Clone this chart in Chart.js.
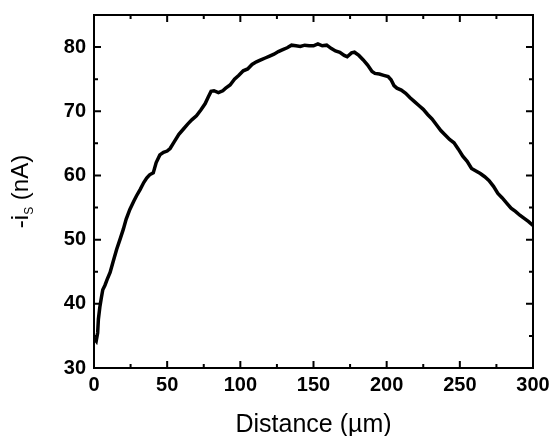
<!DOCTYPE html>
<html>
<head>
<meta charset="utf-8">
<script src="https://cdn.jsdelivr.net/npm/chart.js@4.4.1/dist/chart.umd.min.js"></script>
<style>
  html, body { margin: 0; padding: 0; background: #fff; }
  #wrap { width: 552px; height: 436px; position: relative; }
</style>
</head>
<body>
<div id="wrap"><canvas id="myChart"></canvas></div>
<script>
// values
const distance = [0.5, 1.5, 2.5, 3, 4, 5, 6, 7.5, 9, 11, 13, 15.5, 18, 20, 22, 24.5, 27, 29, 31.5, 34, 36, 38, 40.5, 42.5, 45, 47.5, 50, 52, 55, 58, 61, 64, 67, 70, 73, 76, 78, 80, 82, 85, 88, 90, 93, 96, 99, 102, 105, 108, 111, 114, 117, 120, 123, 126, 129, 132, 135, 138, 141, 144, 147, 150, 153, 156, 159, 162, 165, 168, 171, 173, 176, 178, 181, 184, 187, 190, 192, 195, 198, 201, 203, 205, 207, 210, 213, 216, 219, 222, 225, 228, 231, 234, 237, 240, 243, 246, 249, 252, 255, 258, 261, 264, 267, 270, 273, 276, 279, 282, 285, 288, 291, 294, 297, 300];
const current = [34.5, 34.2, 35.5, 37.6, 39.5, 40.9, 42.2, 42.9, 43.8, 44.9, 46.5, 48.5, 50.2, 51.6, 53.2, 54.7, 55.9, 56.8, 57.8, 58.9, 59.6, 60.1, 60.4, 62.0, 63.2, 63.6, 63.8, 64.2, 65.3, 66.4, 67.2, 68.0, 68.7, 69.3, 70.2, 71.2, 72.2, 73.1, 73.2, 72.9, 73.2, 73.6, 74.1, 75.0, 75.6, 76.3, 76.6, 77.3, 77.7, 78.0, 78.3, 78.6, 78.9, 79.3, 79.6, 79.9, 80.3, 80.2, 80.1, 80.3, 80.2, 80.2, 80.5, 80.2, 80.3, 79.8, 79.4, 79.2, 78.7, 78.5, 79.1, 79.2, 78.7, 78.0, 77.2, 76.2, 75.9, 75.8, 75.6, 75.4, 74.9, 74.0, 73.6, 73.3, 72.8, 72.1, 71.5, 70.9, 70.3, 69.5, 68.8, 67.9, 67.0, 66.3, 65.6, 65.1, 64.1, 63.0, 62.2, 61.1, 60.7, 60.3, 59.8, 59.2, 58.3, 57.2, 56.5, 55.7, 54.9, 54.4, 53.8, 53.3, 52.8, 52.2];

const xTicks = [0, 50, 100, 150, 200, 250, 300];
const xMinor = [25, 75, 125, 175, 225, 275];
const yTicks = [30, 40, 50, 60, 70, 80];
const yMinor = [35, 45, 55, 65, 75];

const xTitle = "Distance (\u00b5m)";
const yTitle = ["-i", "S", " (nA)"];

const font = "Arial, 'Liberation Sans', sans-serif";

// frame, inward ticks and axis titles
const framePlugin = {
  id: "frame",
  afterDraw(chart) {
    const ctx = chart.ctx;
    const a = chart.chartArea;
    const xs = chart.scales.x;
    const ys = chart.scales.y;
    ctx.save();
    ctx.strokeStyle = "#000";
    ctx.lineWidth = 2;
    ctx.strokeRect(a.left, a.top, a.right - a.left, a.bottom - a.top);

    ctx.beginPath();
    const tickX = (vals, len) => {
      vals.forEach(v => {
        const px = xs.getPixelForValue(v);
        ctx.moveTo(px, a.bottom); ctx.lineTo(px, a.bottom - len);
        ctx.moveTo(px, a.top); ctx.lineTo(px, a.top + len);
      });
    };
    const tickY = (vals, len) => {
      vals.forEach(v => {
        const py = ys.getPixelForValue(v);
        ctx.moveTo(a.left, py); ctx.lineTo(a.left + len, py);
        ctx.moveTo(a.right, py); ctx.lineTo(a.right - len, py);
      });
    };
    tickX(xTicks, 7);
    tickX(xMinor, 4);
    tickY(yTicks, 7);
    tickY(yMinor, 4);
    ctx.stroke();

    // x title
    ctx.fillStyle = "#000";
    ctx.font = "25px " + font;
    ctx.textAlign = "center";
    ctx.textBaseline = "alphabetic";
    ctx.fillText(xTitle, (a.left + a.right) / 2, 432);

    // y title, rotated, with subscript
    const big = "24px " + font;
    const small = "12px " + font;
    ctx.font = big;
    const w0 = ctx.measureText(yTitle[0]).width;
    const w2 = ctx.measureText(yTitle[2]).width;
    ctx.font = small;
    const w1 = ctx.measureText(yTitle[1]).width;
    const total = w0 + w1 + w2;
    ctx.translate(28, (a.top + a.bottom) / 2);
    ctx.rotate(-Math.PI / 2);
    ctx.textAlign = "left";
    const x0 = -total / 2;
    ctx.font = big;
    ctx.fillText(yTitle[0], x0, 0);
    ctx.font = small;
    ctx.fillText(yTitle[1], x0 + w0, 5);
    ctx.font = big;
    ctx.fillText(yTitle[2], x0 + w0 + w1, 0);
    ctx.restore();
  }
};

const ctx = document.getElementById("myChart").getContext("2d");
const myChart = new Chart(ctx, {
  type: "line",
  data: {
    datasets: [
      {
        data: distance.map((d, i) => ({ x: d, y: current[i] })),
        borderColor: "#000",
        borderWidth: 3.5,
        pointRadius: 0,
        tension: 0,
        fill: false,
      },
    ],
  },
  options: {
    responsive: true,
    maintainAspectRatio: false,
    animation: false,
    layout: { padding: { left: 0, top: 15, right: 19, bottom: 0 } },
    plugins: { legend: { display: false }, tooltip: { enabled: false } },
    scales: {
      x: {
        type: "linear",
        min: 0,
        max: 300,
        grid: { display: false, drawTicks: false },
        border: { display: false },
        afterBuildTicks: (s) => { s.ticks = xTicks.map(v => ({ value: v })); },
        afterFit: (s) => { s.height = 68; s.paddingLeft = 0; s.paddingRight = 0; },
        ticks: {
          color: "#000",
          padding: 5,
          maxRotation: 0,
          autoSkip: false,
          font: { family: font, size: 20, weight: "bold" },
        },
      },
      y: {
        min: 30,
        max: 85,
        grid: { display: false, drawTicks: false },
        border: { display: false },
        afterBuildTicks: (s) => { s.ticks = yTicks.map(v => ({ value: v })); },
        afterFit: (s) => { s.width = 94; s.paddingTop = 0; s.paddingBottom = 0; },
        ticks: {
          color: "#000",
          padding: 8,
          autoSkip: false,
          font: { family: font, size: 20, weight: "bold" },
        },
      },
    },
  },
  plugins: [framePlugin],
});
</script>
</body>
</html>
